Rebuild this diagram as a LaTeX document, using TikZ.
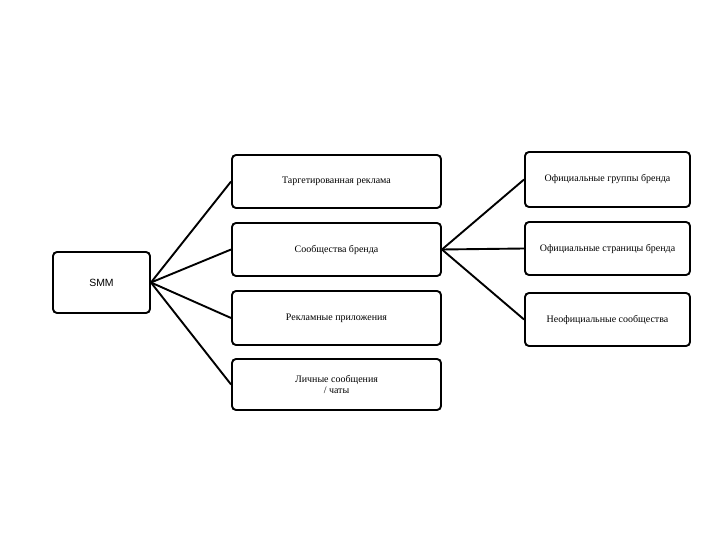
\documentclass[tikz,border=0pt]{standalone}
\usepackage{fontspec}
\setmainfont{Liberation Serif}
\newfontfamily\smmfont{Liberation Sans}
\begin{document}
\begin{tikzpicture}[x=1bp,y=-1bp,
  box/.style={draw, line width=1.9bp, rounded corners=4bp, inner sep=0pt, align=center, font=\fontsize{10}{11}\selectfont},
  conn/.style={line width=1.9bp}]
\useasboundingbox (0,0) rectangle (720,540);
\node[box, minimum width=97bp, minimum height=61bp, font=\smmfont\fontsize{10.5}{12}\selectfont] (smm) at (101.5,282.5) {SMM};
\node[box, minimum width=209bp, minimum height=53bp] (a1) at (336.5,181.5) {Таргетированная реклама};
\node[box, minimum width=209bp, minimum height=53bp] (a2) at (336.5,249.5) {Сообщества бренда};
\node[box, minimum width=209bp, minimum height=54bp] (a3) at (336.5,318) {Рекламные приложения};
\node[box, minimum width=209bp, minimum height=51bp] (a4) at (336.5,384.5) {Личные сообщения\\/ чаты};
\node[box, minimum width=165bp, minimum height=55bp] (b1) at (607.5,179.5) {Официальные группы бренда};
\node[box, minimum width=165bp, minimum height=53bp] (b2) at (607.5,248.5) {Официальные страницы бренда};
\node[box, minimum width=165bp, minimum height=53bp] (b3) at (607.5,319.5) {Неофициальные сообщества};
\foreach \t in {a1,a2,a3,a4} \draw[conn] (smm.east) -- (\t.west);
\foreach \t in {b1,b2,b3} \draw[conn] (a2.east) -- (\t.west);
\end{tikzpicture}
\end{document}
